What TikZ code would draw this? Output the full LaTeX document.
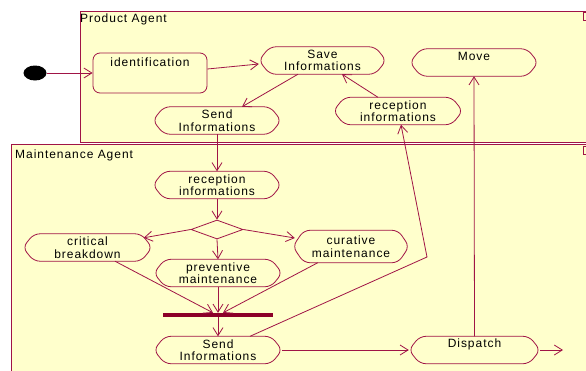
\documentclass[tikz,border=0pt]{standalone}
\usepackage{fontspec}
\setmainfont{Liberation Sans}[LetterSpace=8]
\usetikzlibrary{arrows.meta,shapes.geometric,calc}
\definecolor{lc}{RGB}{160,20,70}
\definecolor{bg}{RGB}{255,255,204}
\definecolor{barc}{RGB}{140,0,40}
\begin{document}
\begin{tikzpicture}[x=1pt,y=-1pt, font=\fontsize{12}{12.5}\selectfont,
  line/.style={draw=lc, line width=0.8pt},
  arr/.style={line, -{Straight Barb[length=8pt,width=10pt,line width=0.8pt]}},
  act/.style={minimum height=27pt, inner sep=0pt, align=center},
  frame/.style={draw=lc, fill=bg, line width=0.9pt},
  lbl/.style={anchor=west, inner sep=1pt}]
\useasboundingbox (0,0) rectangle (586,370);
\fill[white] (0,0) rectangle (586,370);
% swimlane frames
\draw[frame] (80,11) rectangle (592,142);
\draw[line] (583,12) rectangle (592,20);
\draw[frame] (11,144) rectangle (592,375);
\draw[line] (583,146) rectangle (592,154);
\node[lbl] (pa) at (79,19.5) {Product Agent};
\node[lbl] (ma) at (14,155) {Maintenance Agent};
% nodes
\node[fill=black, ellipse, minimum width=23pt, minimum height=15pt, inner sep=0pt] (init) at (35,73) {};
\node[line, rounded corners=7pt, minimum width=114pt, minimum height=40pt, text height=13pt, text depth=27pt, inner sep=0pt] (ident) at (150,73) {identification};
\node[act, minimum width=127pt] (save) at (322.5,60.5) {Save\\Informations};
\node[act, minimum width=128pt, text height=11pt, text depth=16pt] (move) at (474,62.5) {Move};
\node[act, minimum width=129pt] (recA) at (398,111) {reception\\informations};
\node[act, minimum width=128pt] (sendA) at (217,120.5) {Send\\Informations};
\node[act, minimum width=128pt] (recB) at (217,185) {reception\\informations};
\node[line, diamond, minimum width=52pt, minimum height=19pt, inner sep=0pt] (dia) at (217,229.5) {};
\node[act, minimum width=129pt] (crit) at (87.5,247.5) {critical\\breakdown};
\node[act, minimum width=128pt] (prev) at (218,273) {preventive\\maintenance};
\node[act, minimum width=116pt, minimum height=32pt] (cur) at (351,246.5) {curative\\maintenance};
\node[fill=barc, minimum width=110pt, minimum height=4pt, inner sep=0pt] (bar) at (218,315) {};
\node[act, minimum width=128pt] (sendB) at (218,350) {Send\\Informations};
\node[act, minimum width=131pt, text height=11pt, text depth=16pt] (disp) at (474.5,350) {Dispatch};
\coordinate (out) at (563,350);
\coordinate (bend) at (427,257);
% action-state outlines
\foreach \n in {save,move,recA,sendA,recB,crit,prev,cur,sendB,disp}
  \draw[line, rounded corners=6pt] ($(\n.north west)+(11pt,0)$) -- ($(\n.north east)+(-11pt,0)$) -- (\n.east) -- ($(\n.south east)+(-11pt,0)$) -- ($(\n.south west)+(11pt,0)$) -- (\n.west) -- cycle;
% connectors
\draw[arr] (init) -- (ident.west);
\draw[arr] ($(ident.east)+(0,4pt)$) -- ($(save.west)+(0,-3.5pt)$);
\draw[arr] ($(save.south)+(-24.5pt,0)$) -- ($(sendA.north)+(25pt,0)$);
\draw[arr] ($(recA.north)+(-20pt,0)$) -- ($(save.south)+(19.5pt,0)$);
\draw[arr] (sendA.south) -- (recB.north);
\draw[arr] (recB.south) -- (dia.north);
\draw[arr] (dia.west) -- ($(crit.north east)+(-8.5pt,-4pt)$);
\draw[arr] (dia.east) -- ($(cur.west)+(2pt,8.5pt)$);
\draw[arr] (dia.south) -- (prev.north);
\draw[arr] ($(crit.south)+(27.5pt,0)$) -- ($(bar.north)+(-5pt,0)$);
\draw[arr] (prev.south) -- (bar.north);
\draw[arr] ($(cur.south west)+(25pt,0)$) -- ($(bar.north)+(5pt,0)$);
\draw[arr] (bar.south) -- (sendB.north);
\draw[arr] (sendB.east) -- (disp.west);
\draw[arr] (disp.east) -- (out);
\draw[arr] (disp.north) -- (move.south);
\draw[arr] ($(sendB.north)+(32pt,0)$) -- (bend) -- ($(recA.south)+(3pt,0)$);
\end{tikzpicture}
\end{document}
